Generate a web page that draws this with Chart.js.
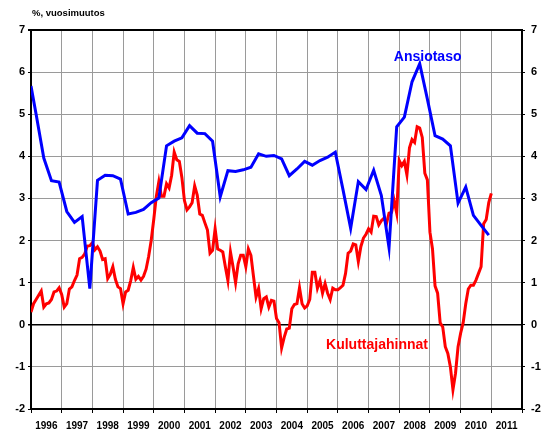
<!DOCTYPE html>
<html>
<head>
<meta charset="utf-8">
<script src="https://cdn.jsdelivr.net/npm/chart.js@4.4.1/dist/chart.umd.min.js"></script>
<style>
  body { margin: 0; background: #fff; }
  #wrap { width: 552px; height: 443px; }
</style>
</head>
<body>
<div id="wrap"><canvas id="chart" width="552" height="443"></canvas></div>
<script>
// x axis categories, one label per year
const years = ['1996', '1997', '1998', '1999', '2000', '2001', '2002', '2003',
  '2004', '2005', '2006', '2007', '2008', '2009', '2010', '2011'];
const yMin = -2;
const yMax = 7;

// Kuluttajahinnat, % change, monthly from Jan 1996 to Jan 2011
const cpi = [
  0.3, 0.5, 0.6, 0.7, 0.8, 0.42, 0.5, 0.52, 0.6, 0.78, 0.8, 0.88,
  0.72, 0.42, 0.5, 0.85, 0.9, 1.05, 1.18, 1.57, 1.6, 1.68, 1.87, 1.88,
  1.95, 1.78, 1.85, 1.75, 1.55, 1.57, 1.1, 1.2, 1.38, 1.08, 0.9, 0.86,
  0.5, 0.78, 0.82, 1.05, 1.36, 1.08, 1.15, 1.06, 1.15, 1.32, 1.62, 2.0,
  2.5, 3.05, 3.4, 3.05, 3.05, 3.35, 3.25, 3.55, 4.1, 3.92, 3.88, 3.5,
  2.95, 2.73, 2.8, 2.9, 3.3, 3.08, 2.63, 2.6, 2.42, 2.25, 1.7, 1.77,
  2.28, 1.8, 1.77, 1.73, 1.38, 1.05, 1.73, 1.38, 1.0, 1.45, 1.65, 1.65,
  1.38, 1.8, 1.65, 1.15, 0.66, 0.86, 0.38, 0.62, 0.66, 0.42, 0.58, 0.56,
  0.15, 0.05, -0.55, -0.3, -0.1, -0.08, 0.38, 0.48, 0.5, 0.88, 0.5, 0.4,
  0.45, 0.6, 1.25, 1.25, 0.87, 1.05, 0.75, 0.98, 0.75, 0.6, 0.87, 0.83,
  0.83, 0.88, 0.94, 1.22, 1.7, 1.75, 1.92, 1.9, 1.5, 1.86, 2.06, 2.15,
  2.28, 2.2, 2.58, 2.57, 2.37, 2.47, 2.53, 2.4, 2.65, 2.67, 2.95, 2.65,
  3.9, 3.78, 3.88, 3.56, 4.2, 4.4, 4.33, 4.7, 4.67, 4.45, 3.6, 3.44,
  2.2, 1.8, 0.92, 0.75, 0.05, -0.05, -0.52, -0.68, -1.0, -1.54, -1.15, -0.52,
  -0.2, 0.05, 0.5, 0.85, 0.94, 0.94, 1.06, 1.22, 1.38, 2.4, 2.5, 2.9,
  3.12
];

// Ansiotaso, % change, quarterly; month counted from Jan 1996
const wageMonth = [0, 2, 5, 8, 11, 14, 17, 20, 23, 26, 29, 32, 35, 38, 41, 44,
  47, 50, 53, 56, 59, 62, 65, 68, 71, 74, 77, 80, 83, 86, 89, 92, 95, 98, 101,
  104, 107, 110, 113, 116, 119, 122, 125, 128, 131, 134, 137, 140, 143, 146,
  149, 152, 155, 158, 161, 164, 167, 170, 173, 176, 179];
const wage = [5.67, 5.0, 3.96, 3.42, 3.39, 2.69, 2.43, 2.57, 0.86, 3.43, 3.55,
  3.54, 3.46, 2.63, 2.67, 2.74, 2.9, 3.01, 4.25, 4.36, 4.44, 4.73, 4.55, 4.54,
  4.36, 3.04, 3.66, 3.64, 3.68, 3.74, 4.06, 4.0, 4.02, 3.94, 3.54, 3.70, 3.88,
  3.79, 3.90, 3.98, 4.10, 3.21, 2.29, 3.40, 3.21, 3.67, 3.07, 1.83, 4.70, 4.93,
  5.77, 6.20, 5.36, 4.49, 4.41, 4.25, 2.89, 3.27, 2.60, 2.36, 2.13];

const FONT = '"Liberation Sans", Arial, sans-serif';
const months = years.length * 12;

// texts drawn on top: unit note and the two series names
const textPlugin = {
  id: 'texts',
  afterDraw(chart) {
    const { ctx, scales } = chart;
    const x = scales.x, y = scales.y;
    ctx.save();
    ctx.font = 'bold 9.5px ' + FONT;
    ctx.fillStyle = '#000';
    ctx.textAlign = 'left';
    ctx.fillText('%, vuosimuutos', 32, 16);
    ctx.font = 'bold 14px ' + FONT;
    ctx.textAlign = 'center';
    ctx.fillStyle = '#0000ff';
    ctx.fillText('Ansiotaso', x.getPixelForValue(155.1), y.getPixelForValue(6.27));
    ctx.fillStyle = '#ff0000';
    ctx.fillText('Kuluttajahinnat', x.getPixelForValue(135.3), y.getPixelForValue(-0.58));
    ctx.restore();
  }
};

const tickFont = { family: FONT, size: 11, weight: 'bold' };

new Chart(document.getElementById('chart'), {
  type: 'line',
  data: {
    datasets: [{
      label: 'Ansiotaso',
      data: wageMonth.map((m, i) => ({ x: m, y: wage[i] })),
      borderColor: '#0000ff',
      borderWidth: 3,
      pointRadius: 0,
      tension: 0,
      xAxisID: 'x'
    }, {
      label: 'Kuluttajahinnat',
      data: cpi.map((v, i) => ({ x: i, y: v })),
      borderColor: '#ff0000',
      borderWidth: 3,
      pointRadius: 0,
      tension: 0,
      xAxisID: 'x'
    }]
  },
  options: {
    responsive: false,
    animation: false,
    layout: { padding: { top: 30 } },
    plugins: {
      legend: { display: false },
      tooltip: { enabled: false }
    },
    scales: {
      x: {
        type: 'linear',
        position: 'bottom',
        min: 0,
        max: months,
        ticks: { stepSize: 12, display: false },
        grid: {
          color: '#9a9a9a',
          tickColor: '#000',
          tickLength: 4,
          lineWidth: 1
        },
        border: { color: '#000', width: 2 },
        afterFit(scale) { scale.height = 4; }
      },
      xl: {
        type: 'category',
        position: 'bottom',
        labels: years,
        offset: true,
        grid: { display: false, drawTicks: false },
        border: { display: false },
        ticks: {
          color: '#000',
          font: { family: FONT, size: 10, weight: 'bold' },
          padding: 7,
          maxRotation: 0,
          autoSkip: false
        },
        afterFit(scale) { scale.height = 30; }
      },
      y: {
        position: 'left',
        min: yMin,
        max: yMax,
        ticks: { stepSize: 1, color: '#000', font: tickFont, padding: 3 },
        grid: {
          color: c => (c.tick.value === 0 || c.tick.value === yMax) ? '#000' : '#9a9a9a',
          lineWidth: c => c.tick.value === yMax ? 2 : (c.tick.value === 0 ? 1.5 : 1),
          tickColor: '#000',
          tickLength: 3
        },
        border: { color: '#000', width: 2 },
        afterFit(scale) { scale.width = 31; }
      },
      y2: {
        position: 'right',
        min: yMin,
        max: yMax,
        ticks: { stepSize: 1, color: '#000', font: tickFont, padding: 6 },
        grid: { drawOnChartArea: false, tickColor: '#000', tickLength: 3 },
        border: { color: '#000', width: 2 },
        afterFit(scale) { scale.width = 30; }
      }
    }
  },
  plugins: [textPlugin]
});
</script>
</body>
</html>
